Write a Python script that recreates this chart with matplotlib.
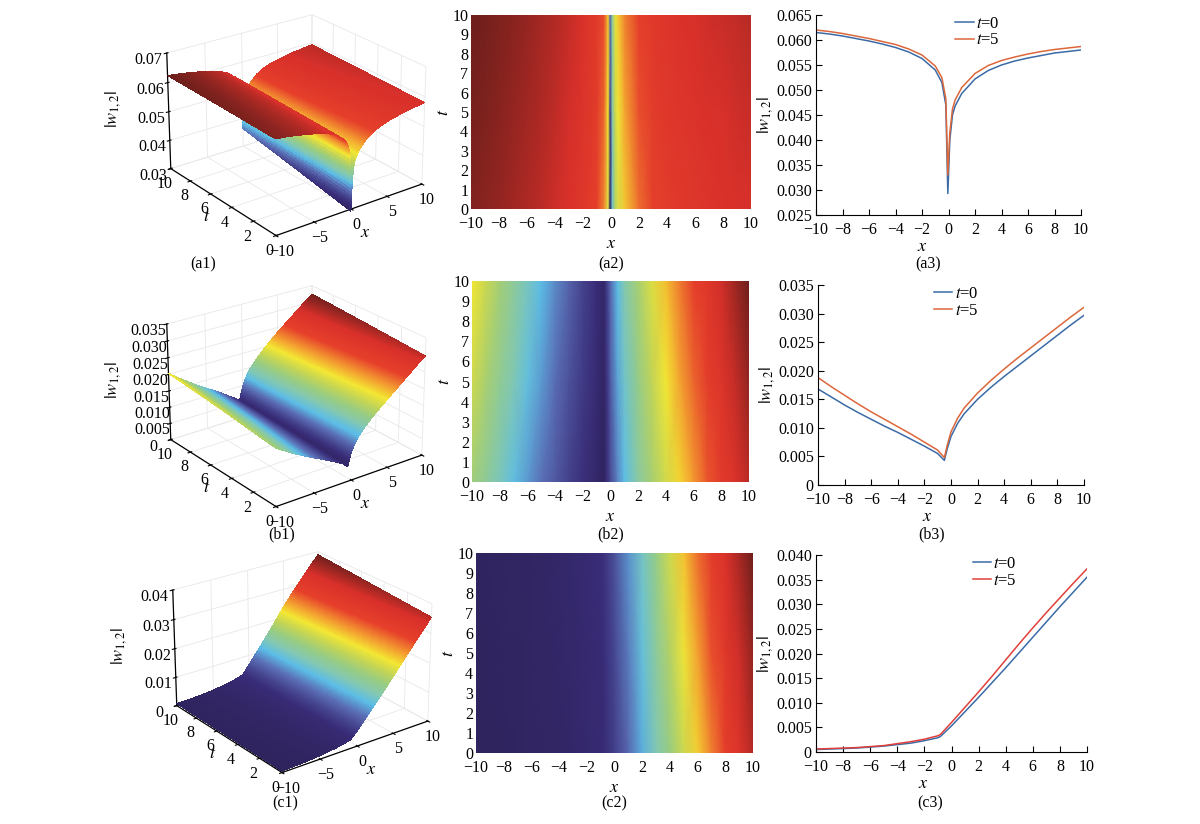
import numpy as np
import matplotlib
matplotlib.use('Agg')
import matplotlib.pyplot as plt
from matplotlib.colors import LinearSegmentedColormap

plt.rcParams['font.family'] = ['Liberation Serif', 'DejaVu Serif']
plt.rcParams['mathtext.fontset'] = 'stix'
plt.rcParams['font.size'] = 11
plt.rcParams['grid.color'] = '#e8e8e8'
plt.rcParams['grid.linewidth'] = 0.6

# profiles, |w_{1,2}| at t = 0, 5, 10
t_rows = [0, 5, 10]

xa = [-10, -9, -8, -7, -6, -5, -4, -3, -2, -1, -0.5, -0.2, -0.05, 0.1, 0.3, 0.5,
      1, 2, 3, 4, 5, 6, 7, 8, 9, 10]
wa_t0 = [.0615, .0612, .0608, .0603, .0598, .0592, .0585, .0576, .0563, .0540, .0515, .0470,
         .0293, .0400, .0450, .0468, .0493, .0522, .0539, .0550, .0558, .0564, .0569, .0574,
         .0577, .0580]
wa_t5 = [.0620, .0617, .0613, .0608, .0603, .0597, .0591, .0582, .0570, .0548, .0525, .0482,
         .0330, .0415, .0462, .0480, .0505, .0533, .0549, .0559, .0566, .0572, .0577, .0581,
         .0584, .0587]
wa_t10 = [.0624, .0621, .0617, .0613, .0608, .0602, .0596, .0588, .0576, .0555, .0534, .0493,
          .0365, .0428, .0473, .0491, .0516, .0543, .0558, .0567, .0574, .0579, .0584, .0587,
          .0590, .0593]

xb = [-10, -9, -8, -7, -6, -5, -4, -3, -2, -1, -0.5, -0.3, 0, 0.5, 1, 2, 3, 4, 5, 6, 7, 8, 9, 10]
wb_t0 = [.0168, .0154, .0140, .0127, .0115, .0103, .0092, .0080, .0068, .0055, .0043, .0062,
         .0085, .0108, .0125, .0150, .0171, .0190, .0208, .0226, .0244, .0262, .0280, .0297]
wb_t5 = [.0188, .0172, .0157, .0142, .0128, .0115, .0102, .0089, .0075, .0061, .0048, .0068,
         .0093, .0117, .0135, .0161, .0183, .0203, .0222, .0240, .0258, .0276, .0294, .0311]
wb_t10 = [.0203, .0186, .0170, .0154, .0139, .0125, .0111, .0097, .0081, .0066, .0052, .0073,
          .0100, .0125, .0144, .0171, .0194, .0215, .0235, .0253, .0271, .0289, .0307, .0324]

xc = [-10, -9, -8, -7, -6, -5, -4, -3, -2, -1, -0.8, 0, 1, 2, 3, 4, 5, 6, 7, 8, 9, 10]
wc_t0 = [.0005, .0006, .0007, .0008, .0010, .0012, .0015, .0018, .0023, .0029, .0032, .0053,
         .0082, .0111, .0141, .0171, .0202, .0233, .0264, .0295, .0325, .0355]
wc_t5 = [.0006, .0007, .0008, .0009, .0011, .0013, .0017, .0021, .0026, .0033, .0036, .0060,
         .0091, .0122, .0154, .0187, .0220, .0252, .0283, .0313, .0343, .0372]
wc_t10 = [.0007, .0008, .0009, .0010, .0012, .0015, .0019, .0023, .0029, .0037, .0040, .0067,
          .0100, .0133, .0167, .0203, .0238, .0271, .0302, .0331, .0361, .0389]

z_ticks = {'a': [0.03, 0.04, 0.05, 0.06, 0.07],
           'b': [0, 0.005, 0.010, 0.015, 0.020, 0.025, 0.030, 0.035],
           'c': [0, 0.01, 0.02, 0.03, 0.04]}
z_labels = {'a': ['0.03', '0.04', '0.05', '0.06', '0.07'],
            'b': ['0', '0.005', '0.010', '0.015', '0.020', '0.025', '0.030', '0.035'],
            'c': ['0', '0.01', '0.02', '0.03', '0.04']}
line_ticks = {'a': [0.025, 0.030, 0.035, 0.040, 0.045, 0.050, 0.055, 0.060, 0.065],
              'b': [0, 0.005, 0.010, 0.015, 0.020, 0.025, 0.030, 0.035],
              'c': [0, 0.005, 0.010, 0.015, 0.020, 0.025, 0.030, 0.035, 0.040]}

cmap = LinearSegmentedColormap.from_list('map', [
    (0.00, '#30245f'), (0.08, '#392c78'), (0.14, '#46458f'), (0.21, '#5a6db5'),
    (0.29, '#5cbde6'), (0.36, '#84c8b0'), (0.43, '#98cc82'), (0.50, '#c2d456'),
    (0.57, '#f3e733'), (0.65, '#f39a30'), (0.74, '#e6402b'), (0.87, '#d8302a'),
    (1.00, '#6e1f1c')])

panels = [('a', xa, [wa_t0, wa_t5, wa_t10], '#dc673b'),
          ('b', xb, [wb_t0, wb_t5, wb_t10], '#dc673b'),
          ('c', xc, [wc_t0, wc_t5, wc_t10], '#e0403a')]

W, H = 1200, 824
fig = plt.figure(figsize=(W / 100, H / 100), dpi=100)


def px_rect(l, t, r, b):
    return [l / W, 1 - b / H, (r - l) / W, (b - t) / H]


heat_rects = [px_rect(471, 15, 751, 209), px_rect(472, 281, 749, 482), px_rect(476, 553, 753, 753)]
line_rects = [px_rect(816, 15, 1081, 215), px_rect(818, 285, 1084, 485), px_rect(816, 555, 1087, 752)]
surf_centers = [(291, 123), (291, 394), (297, 660)]
cap_y = [264, 534, 803]
cap1_x = [203, 282, 285]
cap3_x = [928, 932, 930]
leg_x = [0.61, 0.52, 0.66]
xlab_x = [0.40, 0.41, 0.395]

minus = lambda v: ('\u2212%g' % -v) if v < 0 else '%g' % v

for i, (key, xs, ws, c5) in enumerate(panels):
    X, T = np.meshgrid(xs, t_rows)
    Z = np.array(ws)
    vmin, vmax = Z.min(), Z.max()

    # 3D surface on a finer mesh through the read profiles (dense near the cusp)
    xf = np.unique(np.concatenate([np.linspace(-10, 10, 401), np.linspace(-1.2, 0.6, 181)]))
    tf = np.linspace(0, 10, 41)
    rows = np.array([np.interp(xf, xs, r) for r in ws])
    Zf = np.array([[np.interp(tv, t_rows, rows[:, j]) for j in range(len(xf))] for tv in tf])
    Xf, Tf = np.meshgrid(xf, tf)

    cx, cy = surf_centers[i]
    sw, sh = 400, 300
    ax = fig.add_axes(px_rect(cx - sw / 2, cy - sh / 2, cx + sw / 2, cy + sh / 2), projection='3d')
    ax.set_facecolor('none')
    ax.plot_surface(Xf, Tf, Zf, cmap=cmap, vmin=vmin, vmax=vmax, rcount=len(tf), ccount=len(xf),
                    linewidth=0, antialiased=False)
    ax.view_init(elev=24, azim=-127)
    ax.set_xlim(-10, 10)
    ax.set_ylim(0, 10)
    ax.set_zlim(z_ticks[key][0], z_ticks[key][-1])
    ax.set_xticks([-10, -5, 0, 5, 10])
    ax.set_xticklabels([minus(v) for v in [-10, -5, 0, 5, 10]])
    ax.set_yticks([0, 2, 4, 6, 8, 10])
    ax.set_zticks(z_ticks[key])
    ax.set_zticklabels(z_labels[key])
    for a in (ax.xaxis, ax.yaxis, ax.zaxis):
        a.set_pane_color((1, 1, 1, 0))
        a.pane.set_edgecolor('#e4e4e4')
        a.line.set_color('black')
        a.line.set_linewidth(0.9)
    ax.tick_params(pad=-3, labelsize=11.5)
    ax.tick_params(axis='z', pad=0)
    ax.set_xlabel('$x$', labelpad=-7, fontsize=13)
    ax.set_ylabel('$t$', labelpad=-10, fontsize=13)
    ax.zaxis.set_rotate_label(False)
    ax.set_zlabel('$|w_{1,2}|$', labelpad=4, fontsize=13, rotation=90)
    ax.set_box_aspect((1, 1, 0.70), zoom=0.93)
    fig.text(cap1_x[i] / W, 1 - cap_y[i] / H, '(%s1)' % key, ha='center', va='center',
             fontsize=11.5)

    # density plot
    ax2 = fig.add_axes(heat_rects[i])
    ax2.pcolormesh(X, T, Z, shading='gouraud', cmap=cmap, vmin=vmin, vmax=vmax)
    ax2.set_xlim(-10, 10)
    ax2.set_ylim(0, 10)
    ax2.set_xticks(range(-10, 11, 2))
    ax2.set_xticklabels([minus(v) for v in range(-10, 11, 2)])
    ax2.set_yticks(range(0, 11))
    ax2.tick_params(axis='x', length=0, pad=5, labelsize=11.5)
    ax2.tick_params(axis='y', length=0, pad=2, labelsize=11.5)
    for s in ax2.spines.values():
        s.set_visible(False)
    ax2.set_xlabel('$x$', fontsize=13, labelpad=2)
    ax2.set_ylabel('$t$', fontsize=13, labelpad=0)
    hx = heat_rects[i][0] + heat_rects[i][2] / 2
    fig.text(hx, 1 - cap_y[i] / H, '(%s2)' % key, ha='center', va='center', fontsize=11.5)

    # profiles at t=0 and t=5
    ax3 = fig.add_axes(line_rects[i])
    ax3.plot(xs, ws[0], color='#3b6ba7', lw=1.1, label='$t$=0')
    ax3.plot(xs, ws[1], color=c5, lw=1.1, label='$t$=5')
    ax3.set_xlim(-10, 10)
    yt = line_ticks[key]
    ax3.set_ylim(yt[0], yt[-1])
    ax3.set_yticks(yt)
    ax3.set_yticklabels(['0' if v == 0 else '%.3f' % v for v in yt])
    ax3.set_xticks(range(-10, 11, 2))
    ax3.set_xticklabels([minus(v) for v in range(-10, 11, 2)])
    ax3.tick_params(direction='in', length=4, pad=3, labelsize=11.5)
    ax3.tick_params(axis='x', pad=5)
    ax3.spines['top'].set_visible(False)
    ax3.spines['right'].set_visible(False)
    ax3.set_xlabel('$x$', fontsize=13, labelpad=0, x=xlab_x[i])
    ax3.set_ylabel('$|w_{1,2}|$', fontsize=13, labelpad=1)
    ax3.legend(loc='upper center', bbox_to_anchor=(leg_x[i], 1.03), frameon=False,
               handlelength=1.1, handletextpad=0.15, labelspacing=0.05, fontsize=12,
               borderaxespad=0.0)
    fig.text(cap3_x[i] / W, 1 - cap_y[i] / H, '(%s3)' % key, ha='center', va='center',
             fontsize=11.5)

fig.savefig('out.png', dpi=100)
